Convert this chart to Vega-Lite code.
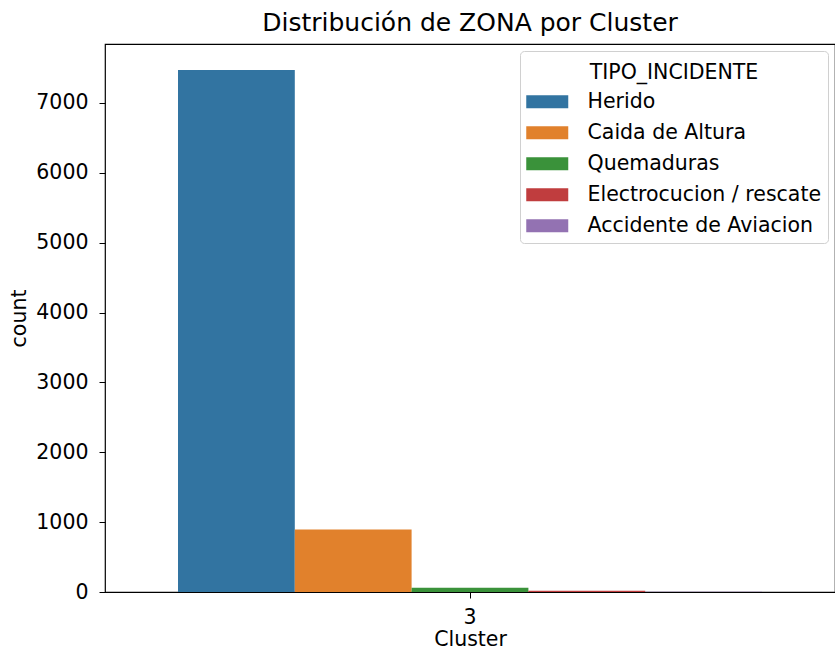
{
  "$schema": "https://vega.github.io/schema/vega-lite/v6.json",
  "autosize": "none",
  "width": 730,
  "height": 548,
  "padding": {"left": 105, "top": 44, "right": 0, "bottom": 60},
  "background": "white",
  "title": {"text": "Distribución de ZONA por Cluster", "fontSize": 25, "font": "DejaVu Sans", "fontWeight": "normal", "color": "black", "offset": 8, "anchor": "middle"},
  "data": {"values": [
    {"Cluster": "3", "TIPO_INCIDENTE": "Herido", "count": 7470},
    {"Cluster": "3", "TIPO_INCIDENTE": "Caida de Altura", "count": 893},
    {"Cluster": "3", "TIPO_INCIDENTE": "Quemaduras", "count": 62},
    {"Cluster": "3", "TIPO_INCIDENTE": "Electrocucion / rescate", "count": 18},
    {"Cluster": "3", "TIPO_INCIDENTE": "Accidente de Aviacion", "count": 2}
  ]},
  "mark": {"type": "bar"},
  "encoding": {
    "x": {"field": "Cluster", "type": "nominal", "title": "Cluster",
      "scale": {"paddingInner": 0, "paddingOuter": 0.125},
      "axis": {"labelAngle": 0}},
    "xOffset": {"field": "TIPO_INCIDENTE", "type": "nominal",
      "sort": ["Herido", "Caida de Altura", "Quemaduras", "Electrocucion / rescate", "Accidente de Aviacion"],
      "scale": {"paddingInner": 0, "paddingOuter": 0}},
    "y": {"field": "count", "type": "quantitative", "title": "count",
      "scale": {"domain": [0, 7843], "nice": false},
      "axis": {"values": [0, 1000, 2000, 3000, 4000, 5000, 6000, 7000], "format": "d"}},
    "color": {"field": "TIPO_INCIDENTE", "type": "nominal", "title": "TIPO_INCIDENTE",
      "scale": {"domain": ["Herido", "Caida de Altura", "Quemaduras", "Electrocucion / rescate", "Accidente de Aviacion"],
        "range": ["#3274a1", "#e1812c", "#3a923a", "#c03d3e", "#9372b2"]},
      "legend": {"orient": "none", "legendX": 415, "legendY": 7,
        "encode": {"title": {"update": {"dy": {"value": 6}}}}}}
  },
  "config": {
    "font": "DejaVu Sans",
    "view": {"stroke": "black", "strokeWidth": 1.2},
    "axis": {
      "grid": false,
      "domain": false,
      "tickColor": "black",
      "tickSize": 6,
      "labelFontSize": 20.5,
      "titleFontSize": 20.5,
      "labelColor": "black",
      "titleColor": "black",
      "titleFontWeight": "normal",
      "labelPadding": 11
    },
    "axisX": {"titlePadding": 2, "labelPadding": 9},
    "axisY": {"titlePadding": 6},
    "legend": {
      "titleFontSize": 20.5,
      "labelFontSize": 20.5,
      "titleFontWeight": "normal",
      "titleColor": "black",
      "labelColor": "black",
      "titleAnchor": "middle",
      "strokeColor": "#d0d0d0",
      "fillColor": "white",
      "cornerRadius": 4,
      "padding": 6,
      "symbolType": "M-2.1,-0.65L2.1,-0.65L2.1,0.65L-2.1,0.65Z",
      "symbolSize": 400,
      "symbolOffset": 11,
      "symbolStrokeWidth": 0,
      "symbolOpacity": 1,
      "labelOffset": 30,
      "labelLimit": 400,
      "rowPadding": 10,
      "titlePadding": 14
    }
  }
}
